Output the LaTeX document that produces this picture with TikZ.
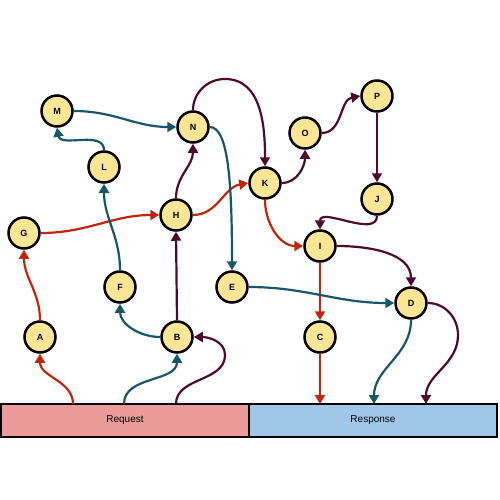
\documentclass[tikz,border=0pt]{standalone}
\usepackage{fontspec}
\setmainfont{Liberation Sans}
\usepackage{tikz}
\usetikzlibrary{arrows.meta,positioning,calc}
\usepackage{xcolor}
\definecolor{nodecolor}{RGB}{252, 230, 150}
\definecolor{requestcolor}{RGB}{236, 155, 155}
\definecolor{responsecolor}{RGB}{160, 198, 232}
\definecolor{redflow}{RGB}{192, 38, 14}
\definecolor{tealflow}{RGB}{24, 86, 106}
\definecolor{darkflow}{RGB}{78, 10, 44}

\begin{document}
\begin{tikzpicture}[x=1pt, y=-1pt,
    task/.style={circle, draw, line width=2.5pt, fill=nodecolor, minimum size=31pt, inner sep=0pt, font=\fontsize{9}{10}\selectfont\bfseries},
    bar/.style={rectangle, draw, line width=2pt, minimum width=248pt, minimum height=33pt, font=\fontsize{10}{12}\selectfont},
    flow/.style={-{Triangle[length=9pt,width=10pt]}, line width=2.2pt},
    redarrow/.style={flow, draw=redflow},
    tealarrow/.style={flow, draw=tealflow},
    darkarrow/.style={flow, draw=darkflow}
]
    \useasboundingbox (0,0) rectangle (500,500);

    % Bars
    \node[bar, fill=requestcolor] (req) at (125,420.5) {Request};
    \node[bar, fill=responsecolor] (resp) at (373,420.5) {Response};
    \coordinate (reqA) at (73,404);
    \coordinate (reqB) at (124,404);
    \coordinate (reqC) at (176,404);
    \coordinate (respC) at (320,404);
    \coordinate (respD) at (374,404);
    \coordinate (respE) at (426,404);

    % Tasks
    \node[task] (M) at (57,111) {M};
    \node[task] (N) at (193,127) {N};
    \node[task] (L) at (104,167) {L};
    \node[task] (G) at (24,233) {G};
    \node[task] (H) at (176,215) {H};
    \node[task] (K) at (265,183) {K};
    \node[task] (O) at (305,133) {O};
    \node[task] (P) at (377,96) {P};
    \node[task] (J) at (377,199) {J};
    \node[task] (I) at (320,246) {I};
    \node[task] (E) at (232,287) {E};
    \node[task] (D) at (411,303) {D};
    \node[task] (C) at (320,337) {C};
    \node[task] (F) at (120,287) {F};
    \node[task] (B) at (177,337) {B};
    \node[task] (A) at (40,337) {A};

    % Red path
    \draw[redarrow] (reqA) to[out=90,in=-90] (A.south);
    \draw[redarrow] (A.north) to[out=90,in=-90] (G.south);
    \draw[redarrow] (G.east) to[out=0,in=180] (H.west);
    \draw[redarrow] (H.east) to[out=0,in=190] (K.west);
    \draw[redarrow] (K.south) to[out=-90,in=180] (I.west);
    \draw[redarrow] (I.south) -- (C.north);
    \draw[redarrow] (C.south) -- (respC);

    % Teal path
    \draw[tealarrow] (reqB) to[out=90,in=-90] (B.south);
    \draw[tealarrow] (B.west) to[out=180,in=-90] (F.south);
    \draw[tealarrow] (F.north) to[out=90,in=-90] (L.south);
    \draw[tealarrow] (L.north) to[out=90,in=-80] (M.south);
    \draw[tealarrow] (M.east) to[out=0,in=180] (N.west);
    \draw[tealarrow] (N.east) .. controls (228,127) and (232,180) .. (E.north);
    \draw[tealarrow] (E.east) to[out=0,in=180] (D.west);
    \draw[tealarrow] (D.south) to[out=-90,in=90] (respD);

    % Dark path
    \draw[darkarrow] (reqC) to[out=90,in=-90] (225,355) to[out=90,in=0] (B.east);
    \draw[darkarrow] (B.north) -- (H.south);
    \draw[darkarrow] (H.north) to[out=90,in=-90] (N.south);
    \draw[darkarrow] (N.north) to[out=90,in=180] (225,79) to[out=0,in=90] (K.north);
    \draw[darkarrow] (K.east) to[out=0,in=-90] (O.south);
    \draw[darkarrow] (O.east) to[out=0,in=190] (P.west);
    \draw[darkarrow] (P.south) -- (J.north);
    \draw[darkarrow] (J.south) to[out=-90,in=90] (I.north);
    \draw[darkarrow] (I.east) to[out=0,in=90] (D.north);
    \draw[darkarrow] (D.east) to[out=0,in=90] (458,335) to[out=-90,in=90] (respE);
\end{tikzpicture}
\end{document}
